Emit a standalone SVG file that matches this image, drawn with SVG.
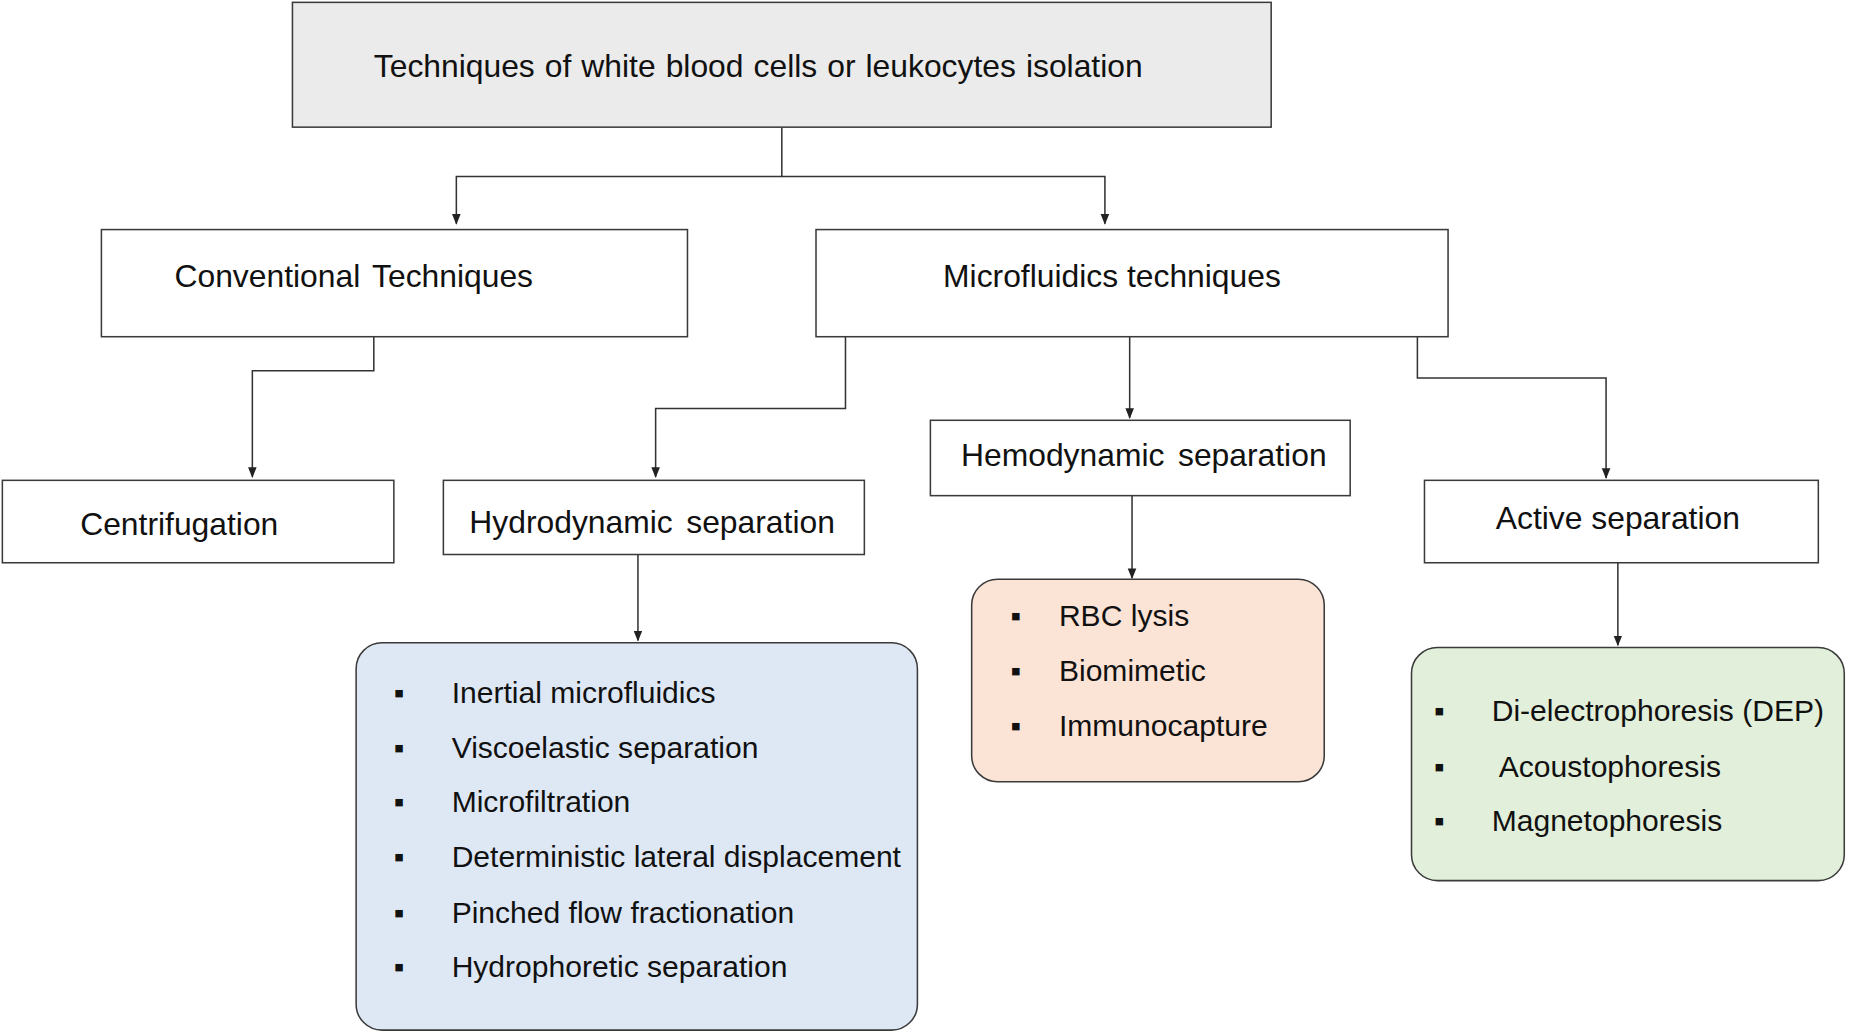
<svg xmlns="http://www.w3.org/2000/svg" width="1849" height="1036" viewBox="0 0 1849 1036">
<style>
.b{stroke:#3a3a3a;stroke-width:1.3;fill:#fff}
.h{font-family:"Liberation Sans",Arial,sans-serif;font-size:27px;fill:#111;text-anchor:middle;dominant-baseline:middle}
.l{font-family:"Liberation Sans",Arial,sans-serif;font-size:25.5px;fill:#111;dominant-baseline:middle}
.c{fill:none;stroke:#333;stroke-width:1.3;marker-end:url(#a)}
</style>
<defs><marker id="a" viewBox="0 0 10 10" refX="9" refY="5" markerWidth="7" markerHeight="7" orient="auto"><path d="M0,1 L10,5 L0,9 z" fill="#222"/></marker></defs>
<rect width="1849" height="1036" fill="#fff"/>
<g transform="scale(1.1792,1.1773)">
<g id="connectors">
<path class="c" d="M663,108 V150 H387 V190"/>
<path class="c" d="M663,150 H937 V190"/>
<path class="c" d="M317,286 V315 H214 V405"/>
<path class="c" d="M717,286 V347 H556 V405"/>
<path class="c" d="M958,286 V355"/>
<path class="c" d="M1202,286 V321 H1362 V406"/>
<path class="c" d="M541,471 V544"/>
<path class="c" d="M960,421 V491"/>
<path class="c" d="M1372,478 V548"/>
</g>
<g id="root"><rect class="b" x="248" y="2" width="830" height="106" style="fill:#ebebeb"/><text class="h" x="643" y="58" style="word-spacing:1px">Techniques of white blood cells or leukocytes isolation</text></g>
<g id="conventional"><rect class="b" x="86" y="195" width="497" height="91"/><text class="h" x="300" y="237" style="word-spacing:3px">Conventional Techniques</text></g>
<g id="microfluidics"><rect class="b" x="692" y="195" width="536" height="91"/><text class="h" x="943" y="237">Microfluidics techniques</text></g>
<g id="centrifugation"><rect class="b" x="2" y="408" width="332" height="70"/><text class="h" x="152" y="447">Centrifugation</text></g>
<g id="hydrodynamic"><rect class="b" x="376" y="408" width="357" height="63"/><text class="h" x="553" y="446" style="word-spacing:4px">Hydrodynamic separation</text></g>
<g id="hemodynamic"><rect class="b" x="789" y="357" width="356" height="64"/><text class="h" x="970" y="389" style="word-spacing:4px">Hemodynamic separation</text></g>
<g id="active"><rect class="b" x="1208" y="408" width="334" height="70"/><text class="h" x="1372" y="442">Active separation</text></g>
<g id="hydro-list"><rect class="b" x="302" y="546" width="476" height="329" rx="22" style="fill:#dee8f5"/>
<text class="l" x="334" y="590">▪</text><text class="l" x="383" y="590">Inertial microfluidics</text>
<text class="l" x="334" y="637">▪</text><text class="l" x="383" y="637">Viscoelastic separation</text>
<text class="l" x="334" y="683">▪</text><text class="l" x="383" y="683">Microfiltration</text>
<text class="l" x="334" y="730">▪</text><text class="l" x="383" y="730">Deterministic lateral displacement</text>
<text class="l" x="334" y="777">▪</text><text class="l" x="383" y="777">Pinched flow fractionation</text>
<text class="l" x="334" y="823">▪</text><text class="l" x="383" y="823">Hydrophoretic separation</text></g>
<g id="hemo-list"><rect class="b" x="824" y="492" width="299" height="172" rx="22" style="fill:#fbe3d6"/>
<text class="l" x="857" y="525">▪</text><text class="l" x="898" y="525">RBC lysis</text>
<text class="l" x="857" y="572">▪</text><text class="l" x="898" y="572">Biomimetic</text>
<text class="l" x="857" y="618">▪</text><text class="l" x="898" y="618">Immunocapture</text></g>
<g id="active-list"><rect class="b" x="1197" y="550" width="367" height="198" rx="22" style="fill:#e2efda"/>
<text class="l" x="1216" y="606">▪</text><text class="l" x="1265" y="606">Di-electrophoresis (DEP)</text>
<text class="l" x="1216" y="653">▪</text><text class="l" x="1271" y="653">Acoustophoresis</text>
<text class="l" x="1216" y="699">▪</text><text class="l" x="1265" y="699">Magnetophoresis</text></g>
</g>
</svg>
